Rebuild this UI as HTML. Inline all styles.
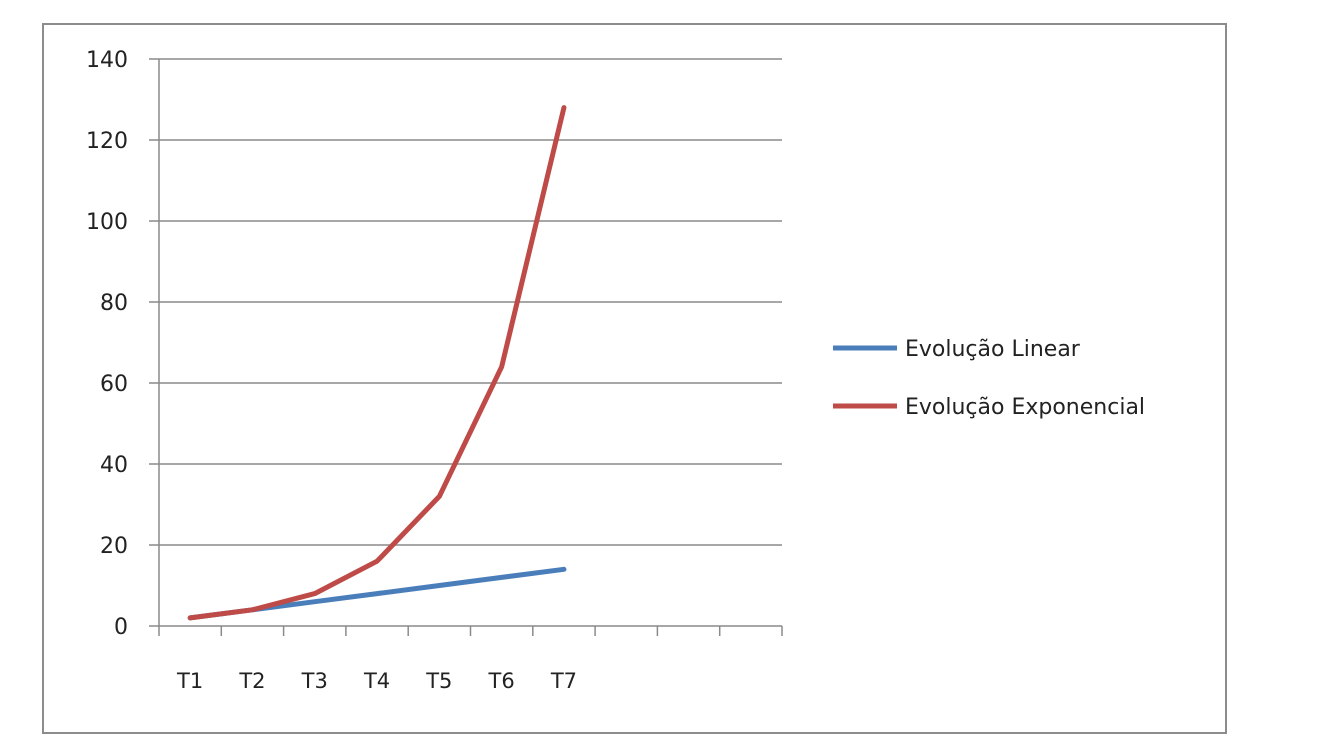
<!DOCTYPE html>
<html><head><meta charset="utf-8"><style>
body{margin:0;background:#fff;width:1334px;height:750px;overflow:hidden}
text{font-family:"DejaVu Sans","Liberation Sans",sans-serif;fill:#222}
</style></head><body>
<svg id="c" width="1334" height="750">
<rect x="43" y="24" width="1183" height="709" fill="#fff" stroke="#8c8c8c" stroke-width="2"/>
<g id="g"></g>
</svg>
<script>
const categories=["T1","T2","T3","T4","T5","T6","T7"];
const linearValues=[2,4,6,8,10,12,14];
const expValues=[2,4,8,16,32,64,128];
const yTicks=[0,20,40,60,80,100,120,140];
const seriesNames=["Evolução Linear","Evolução Exponencial"];
const nSlots=10;
const X0=159,X1=782,Y0=626,Y1=59;
const sx=i=>X0+(i+0.5)*(X1-X0)/nSlots;
const sy=v=>Y0-(v/140)*(Y0-Y1);
const g=document.getElementById('g');
const NS="http://www.w3.org/2000/svg";
function mk(t,a){const e=document.createElementNS(NS,t);for(const k in a)e.setAttribute(k,a[k]);g.appendChild(e);return e;}
yTicks.forEach(v=>{
 const l=mk('line',{x1:149,x2:X1,y1:sy(v),y2:sy(v),stroke:'#8a8a8a','stroke-width':1.5});
 
 
 const t=mk('text',{x:128,y:sy(v)+8,'text-anchor':'end','font-size':22});
 t.textContent=v;
 
 
});
const ax=mk('line',{x1:X0,x2:X0,y1:Y1,y2:Y0,stroke:'#8a8a8a','stroke-width':1.5});


for(let i=0;i<=nSlots;i++){
 const x=X0+i*(X1-X0)/nSlots;
 const tk=mk('line',{x1:x,x2:x,y1:Y0,y2:Y0+10,stroke:'#8a8a8a','stroke-width':1.5});
 
 
}
categories.forEach((c,i)=>{
 const t=mk('text',{x:sx(i),y:688,'text-anchor':'middle','font-size':21});
 t.textContent=c;
 
 
});
const colors=["#4a7ebb","#be4b48"];
[linearValues,expValues].forEach((vals,s)=>{
 const p=mk('polyline',{points:vals.map((v,i)=>sx(i)+','+sy(v)).join(' '),fill:'none',stroke:colors[s],'stroke-width':5,'stroke-linejoin':'round','stroke-linecap':'round'});
 
 
 const ly=348+s*58;
 const ll=mk('line',{x1:833,x2:897,y1:ly,y2:ly,stroke:colors[s],'stroke-width':5});
 
 
 const lt=mk('text',{x:905,y:ly+8,'font-size':22});
 lt.textContent=seriesNames[s];
 
 
});
</script>
</body></html>
